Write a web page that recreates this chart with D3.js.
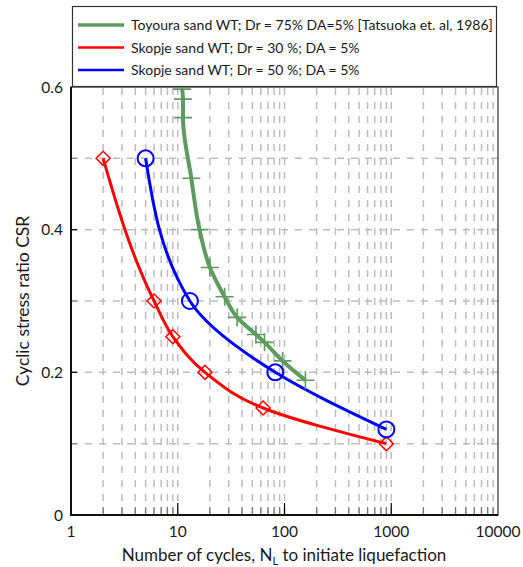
<!DOCTYPE html>
<html>
<head>
<meta charset="utf-8">
<script src="https://cdn.jsdelivr.net/npm/d3@7"></script>
<style>
  body { margin: 0; background: #fff; }
  text { font-family: Lato, 'Noto Sans', sans-serif; fill: #1a1a1a; }
</style>
</head>
<body>
<svg id="chart" width="523" height="567"></svg>
<script>
// Toyoura sand, Dr = 75% (Tatsuoka et al. 1986)
const toyouraCycles = [11, 11.2, 11.2, 13.4, 16, 20, 27.5, 36, 54, 65, 96, 157];
const toyouraCsr = [0.597, 0.583, 0.557, 0.472, 0.4, 0.347, 0.306, 0.277, 0.253, 0.242, 0.216, 0.189];
// Skopje sand, Dr = 30%
const skopje30Cycles = [2, 6, 9, 18, 63, 900];
const skopje30Csr = [0.5, 0.3, 0.25, 0.2, 0.15, 0.1];
// Skopje sand, Dr = 50%
const skopje50Cycles = [5, 13, 82, 900];
const skopje50Csr = [0.5, 0.3, 0.2, 0.12];

const xTickValues = [1, 10, 100, 1000, 10000];
const yTickValues = [0, 0.2, 0.4, 0.6];
const legendLabels = [
  'Toyoura sand WT; Dr = 75% DA=5% [Tatsuoka et. al, 1986]',
  'Skopje sand WT; Dr = 30 %; DA = 5%',
  'Skopje sand WT; Dr = 50 %; DA = 5%',
];

const svg = d3.select('#chart');
const margin = { left: 71, right: 25, top: 87, bottom: 52 };
const width = 523, height = 567;

const x = d3.scaleLog()
  .domain([1, 10000])
  .range([margin.left, width - margin.right]);
const y = d3.scaleLinear()
  .domain([0, 0.6])
  .range([height - margin.bottom, margin.top]);

const zip = (xs, ys) => xs.map((n, i) => ({ n, csr: ys[i] }));
const series = [
  { name: legendLabels[0], color: '#5f9a60', width: 4, marker: 'plus', data: zip(toyouraCycles, toyouraCsr) },
  { name: legendLabels[1], color: '#ff0000', width: 3, marker: 'diamond', data: zip(skopje30Cycles, skopje30Csr) },
  { name: legendLabels[2], color: '#0000ff', width: 3, marker: 'circle', data: zip(skopje50Cycles, skopje50Csr) },
];

// minor log positions (2..9 in each decade, plus decades)
const minorX = [];
for (let d = 1; d < 10000; d *= 10) {
  for (let k = 2; k <= 10; k++) minorX.push(d * k);
}
const gridX = minorX.filter((v) => v < 10000);
const gridY = [0.1, 0.2, 0.3, 0.4, 0.5];

// grid
const grid = svg.append('g').attr('class', 'grid')
  .attr('stroke', '#bdbdbd')
  .attr('stroke-width', 1.5)
  .attr('stroke-dasharray', '7,7');
grid.selectAll('.vgrid')
  .data(gridX)
  .join('line')
  .classed('vgrid', true)
  .attr('x1', (d) => x(d))
  .attr('x2', (d) => x(d))
  .attr('y1', y(0))
  .attr('y2', y(0.6));
grid.selectAll('.hgrid')
  .data(gridY)
  .join('line')
  .classed('hgrid', true)
  .attr('x1', x(1))
  .attr('x2', x(10000))
  .attr('y1', (d) => y(d))
  .attr('y2', (d) => y(d));

// tick marks inside the plot
svg.append('g')
  .selectAll('line')
  .data(gridX)
  .join('line')
  .attr('x1', (d) => x(d))
  .attr('x2', (d) => x(d))
  .attr('y1', y(0))
  .attr('y2', (d) => y(0) - (xTickValues.includes(d) ? 12 : 8))
  .attr('stroke', (d) => (xTickValues.includes(d) ? '#000' : '#777'))
  .attr('stroke-width', 1.2);
svg.append('g')
  .selectAll('line')
  .data(gridY)
  .join('line')
  .attr('x1', x(1))
  .attr('x2', x(1) + 6)
  .attr('y1', (d) => y(d))
  .attr('y2', (d) => y(d))
  .attr('stroke', (d) => (Math.round(d * 10) % 2 === 0 ? '#000' : '#888'))
  .attr('stroke-width', 1.2);

// frame
svg.append('rect')
  .attr('x', x(1))
  .attr('y', y(0.6))
  .attr('width', x(10000) - x(1))
  .attr('height', y(0) - y(0.6))
  .attr('fill', 'none')
  .attr('stroke', '#555')
  .attr('stroke-width', 1.5);
svg.append('path')
  .attr('d', `M${x(1)},${y(0.6)}V${y(0)}H${x(10000)}`)
  .attr('fill', 'none')
  .attr('stroke', '#111')
  .attr('stroke-width', 2);

// axis labels
svg.append('g')
  .selectAll('text')
  .data(xTickValues)
  .join('text')
  .attr('x', (d) => x(d))
  .attr('y', y(0) + 22)
  .attr('text-anchor', 'middle')
  .style('font-size', '15.5px')
  .text((d) => d);
svg.append('g')
  .selectAll('text')
  .data(yTickValues)
  .join('text')
  .attr('x', x(1) - 8)
  .attr('y', (d) => y(d) + 5.5)
  .attr('text-anchor', 'end')
  .style('font-size', '15.5px')
  .text((d) => d);

const xTitle = svg.append('text')
  .attr('x', 284)
  .attr('y', 561)
  .attr('text-anchor', 'middle')
  .style('font-size', '17px');
xTitle.append('tspan').text('Number of cycles, N');
xTitle.append('tspan').attr('dy', 4).style('font-size', '11px').text('L');
xTitle.append('tspan').attr('dy', -4).text(' to initiate liquefaction');

svg.append('text')
  .attr('transform', `translate(29, ${(y(0) + y(0.6)) / 2}) rotate(-90)`)
  .attr('text-anchor', 'middle')
  .style('font-size', '17.5px')
  .text('Cyclic stress ratio CSR');

// curves: smooth, monotone in CSR
const line = d3.line()
  .x((d) => x(d.n))
  .y((d) => y(d.csr))
  .curve(d3.curveMonotoneY);

const plot = svg.append('g').attr('class', 'series');
series.forEach((s) => {
  plot.append('path')
    .datum(s.data)
    .attr('d', line)
    .attr('fill', 'none')
    .attr('stroke', s.color)
    .attr('stroke-width', s.width);
});

function drawMarker(g, type, color) {
  if (type === 'circle') {
    g.append('circle').attr('r', 8)
      .attr('fill', 'none').attr('stroke', color).attr('stroke-width', 2);
  } else if (type === 'diamond') {
    g.append('path').attr('d', 'M0,-7L7,0L0,7L-7,0Z')
      .attr('fill', 'none').attr('stroke', color).attr('stroke-width', 1.5);
  } else {
    g.append('path').attr('d', 'M-9,0H9M0,-9V9')
      .attr('fill', 'none').attr('stroke', color).attr('stroke-width', 1.6);
  }
}

series.forEach((s) => {
  plot.append('g')
    .selectAll('g')
    .data(s.data)
    .join('g')
    .attr('transform', (d) => `translate(${x(d.n)}, ${y(d.csr)})`)
    .each(function () {
      drawMarker(d3.select(this), s.marker, s.color);
    });
});

// legend
const legend = svg.append('g').attr('class', 'legend');
legend.append('rect')
  .attr('x', 72.5)
  .attr('y', 6.5)
  .attr('width', 424)
  .attr('height', 80)
  .attr('fill', '#fff')
  .attr('stroke', '#333')
  .attr('stroke-width', 1.2);
legend.selectAll('.legend-item')
  .data(series)
  .join('g')
  .classed('legend-item', true)
  .attr('transform', (d, i) => `translate(78, ${25 + 22.5 * i})`)
  .call((g) =>
    g.append('line')
      .attr('x1', 0)
      .attr('x2', 46)
      .attr('stroke', (d) => d.color)
      .attr('stroke-width', (d) => d.width - 0.5),
  )
  .call((g) =>
    g.append('text')
      .attr('x', 53)
      .attr('y', 5)
      .style('font-size', '14px')
      .text((d) => d.name),
  );
</script>
</body>
</html>
